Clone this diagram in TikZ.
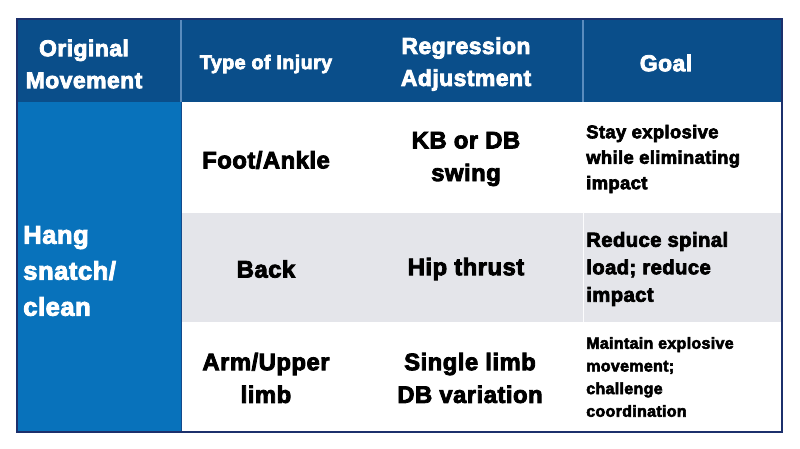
\documentclass[tikz,border=0pt]{standalone}
\usepackage{fontspec}
\newfontfamily\hv{Liberation Sans}[BoldFeatures={FakeBold=3.5,LetterSpace=2}]
\definecolor{hdrblue}{RGB}{10,78,138}
\definecolor{colblue}{RGB}{8,114,187}
\definecolor{rowgrey}{RGB}{228,229,234}
\definecolor{navy}{RGB}{28,48,108}
\definecolor{sepblue}{RGB}{90,140,190}
\tikzset{
  cell/.style={inner sep=0pt, align=center, text=black},
  hdr/.style={inner sep=0pt, align=center, text=white, font=\hv\bfseries\fontsize{17.2}{24}\selectfont},
  big/.style={cell, font=\hv\bfseries\fontsize{17.9}{24.5}\selectfont},
  goal/.style={inner sep=0pt, align=left, anchor=west, text=black},
}
\begin{document}
\begin{tikzpicture}[x=0.75pt,y=-0.75pt]
\useasboundingbox (0,0) rectangle (800,449);
\fill[white] (0,0) rectangle (800,449);
% backgrounds
\fill[hdrblue] (17,19) rectangle (782,102);
\fill[colblue] (17,102) rectangle (181,432);
\fill[white] (181,102) rectangle (782,213);
\fill[rowgrey] (181,213) rectangle (782,322);
\fill[white] (181,322) rectangle (782,432);
% separators
\draw[sepblue, line width=0.8pt] (181,19) -- (181,102);
\draw[sepblue, line width=0.8pt] (583,19) -- (583,102);
\draw[navy!60!colblue, line width=0.6pt] (181,102) -- (181,432);
\draw[white!90!rowgrey, line width=0.6pt] (583,213) -- (583,322);
% border
\draw[navy, line width=1.2pt] (17,19) rectangle (782,432);
% header
\node[hdr] (h1) at (84,64) {Original\\Movement};
\node[hdr, font=\hv\bfseries\fontsize{14.8}{20}\selectfont] (h2) at (266,64) {Type of Injury};
\node[hdr] (h3) at (466,64) {Regression\\Adjustment};
\node[hdr] (h4) at (666,63) {Goal};
% left column
\node[inner sep=0pt, align=left, anchor=west, text=white, font=\hv\bfseries\fontsize{19.2}{27}\selectfont] (mv) at (23,271) {Hang\\snatch/\\clean};
% row 1
\node[big] (r1a) at (266,160) {Foot/Ankle};
\node[big] (r1b) at (466,159) {KB or DB\\swing};
\node[goal, font=\hv\bfseries\fontsize{13.8}{19.1}\selectfont] (r1c) at (586,159) {Stay explosive\\while eliminating\\impact};
% row 2
\node[big] (r2a) at (266,269) {Back};
\node[big] (r2b) at (466,269) {Hip thrust};
\node[goal, font=\hv\bfseries\fontsize{15.2}{20.6}\selectfont] (r2c) at (586,269) {Reduce spinal\\load; reduce\\impact};
% row 3
\node[big] (r3a) at (266,378) {Arm/Upper\\limb};
\node[big] (r3b) at (470,378) {Single limb\\DB variation};
\node[goal, font=\hv\bfseries\fontsize{12}{17}\selectfont] (r3c) at (586,377) {Maintain explosive\\movement;\\challenge\\coordination};
\end{tikzpicture}
\end{document}
